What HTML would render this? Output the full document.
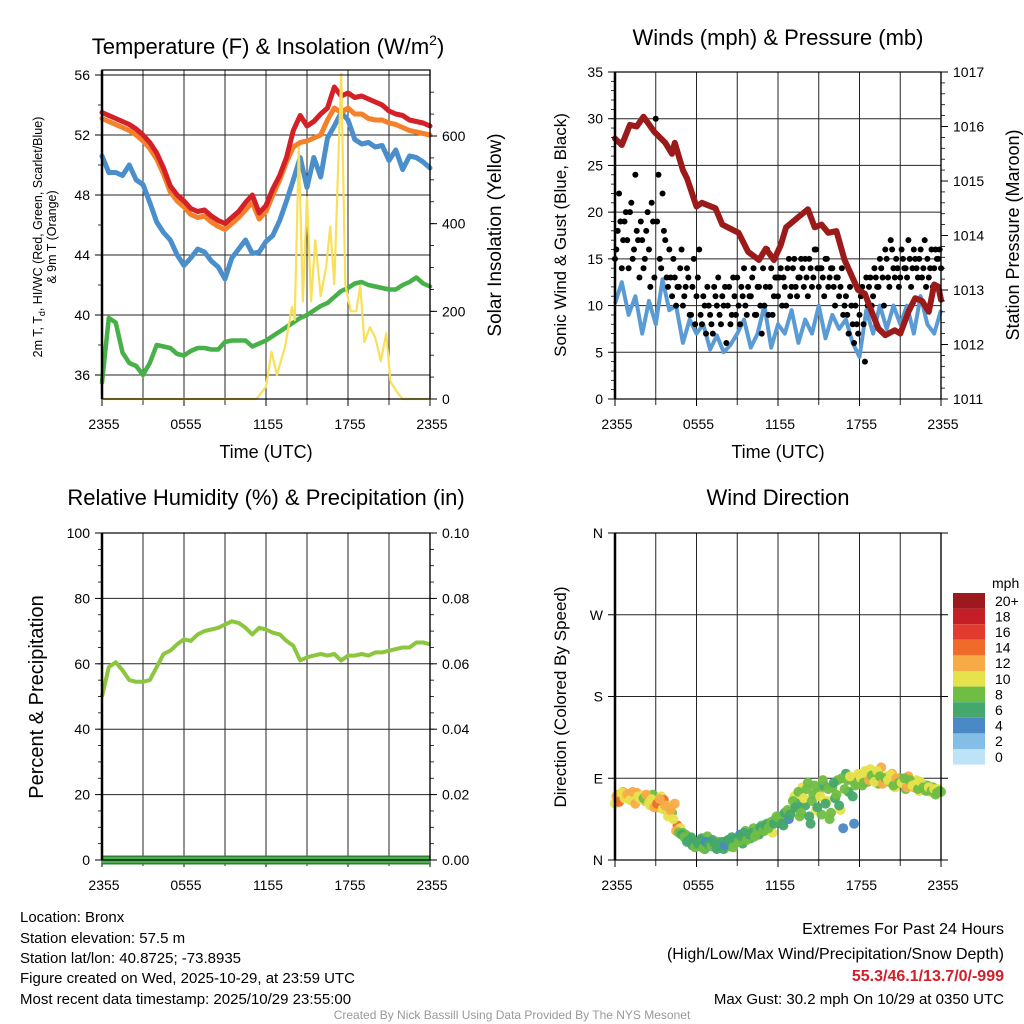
<!DOCTYPE html>
<html><head><meta charset="utf-8"><style>
html,body{margin:0;padding:0;background:#fff;}
svg{display:block;font-family:"Liberation Sans",Arial,sans-serif;}
</style></head><body>
<svg id="root" width="1024" height="1024" viewBox="0 0 1024 1024" xmlns="http://www.w3.org/2000/svg">
<rect width="1024" height="1024" fill="#fff"/>
<g id="p1"></g>
<g id="p2"></g>
<g id="p3"></g>
<g id="p4"></g>
<g id="cb"></g>

<text x="268" y="54" font-size="22" text-anchor="middle">Temperature (F) &amp; Insolation (W/m<tspan dy="-9" font-size="14">2</tspan><tspan dy="9">)</tspan></text>
<text x="778" y="45" font-size="22" text-anchor="middle">Winds (mph) &amp; Pressure (mb)</text>
<text x="266" y="505" font-size="22" text-anchor="middle">Relative Humidity (%) &amp; Precipitation (in)</text>
<text x="778" y="505" font-size="22" text-anchor="middle">Wind Direction</text>

<text x="266" y="458" font-size="18" text-anchor="middle">Time (UTC)</text>
<text x="778" y="458" font-size="18" text-anchor="middle">Time (UTC)</text>

<text transform="translate(42,237) rotate(-90)" font-size="12.5" text-anchor="middle">2m T, T<tspan font-size="9" dy="3">d</tspan><tspan dy="-3">, HI/WC (Red, Green, Scarlet/Blue)</tspan></text>
<text transform="translate(56,237) rotate(-90)" font-size="12.5" text-anchor="middle">&amp; 9m T (Orange)</text>
<text transform="translate(501,235) rotate(-90)" font-size="19" text-anchor="middle">Solar Insolation (Yellow)</text>
<text transform="translate(566,235) rotate(-90)" font-size="17" text-anchor="middle">Sonic Wind &amp; Gust (Blue, Black)</text>
<text transform="translate(1019,235) rotate(-90)" font-size="18" text-anchor="middle">Station Pressure (Maroon)</text>
<text transform="translate(43,697) rotate(-90)" font-size="20" text-anchor="middle">Percent &amp; Precipitation</text>
<text transform="translate(566,697) rotate(-90)" font-size="17" text-anchor="middle">Direction (Colored By Speed)</text>

<g font-size="15">
<text x="20" y="922">Location: Bronx</text>
<text x="20" y="943">Station elevation: 57.5 m</text>
<text x="20" y="963">Station lat/lon: 40.8725; -73.8935</text>
<text x="20" y="983">Figure created on Wed, 2025-10-29, at 23:59 UTC</text>
<text x="20" y="1004">Most recent data timestamp: 2025/10/29 23:55:00</text>
</g>
<g font-size="16" text-anchor="end">
<text x="1004" y="934">Extremes For Past 24 Hours</text>
<text x="1004" y="959">(High/Low/Max Wind/Precipitation/Snow Depth)</text>
<text x="1004" y="981" fill="#d0202a" font-weight="bold">55.3/46.1/13.7/0/-999</text>
<text x="1004" y="1004" font-size="15">Max Gust: 30.2 mph On 10/29 at 0350 UTC</text>
</g>
<text x="512" y="1019" font-size="12" fill="#999" text-anchor="middle">Created By Nick Bassill Using Data Provided By The NYS Mesonet</text>
</svg>
<script>
// ---------- data (half-hourly unless noted) ----------
const xTickLabels = ["2355","0555","1155","1755","2355"];
const tempTicks = [36,40,44,48,52,56];
const solarTicks = [0,200,400,600];
const windTicks = [0,5,10,15,20,25,30,35];
const pressTicks = [1011,1012,1013,1014,1015,1016,1017];
const rhTicks = [0,20,40,60,80,100];
const precipTicks = ["0.00","0.02","0.04","0.06","0.08","0.10"];
const dirLabels = ["N","E","S","W","N"];
const speedLabels = ["0","2","4","6","8","10","12","14","16","18","20+"];
const speedColors = ["#bde3f7","#84bde6","#4a88c6","#44a86c","#70bd44","#e6e24c","#f7ab47","#f06b2a","#e23b2f","#c41f26","#9c1a1d"];

const tempRed = [53.5,53.3,53.1,52.9,52.7,52.4,52.0,51.5,50.8,49.8,48.6,48.0,47.6,47.1,46.9,47.0,46.6,46.3,46.1,46.5,46.9,47.5,48.0,46.8,47.3,48.4,49.3,50.5,52.3,53.3,52.6,52.9,53.4,53.8,55.2,54.6,54.8,54.5,54.6,54.4,54.2,54.0,53.6,53.4,53.3,53.0,52.9,52.8,52.6];
const tempOrange = [53.1,52.9,52.7,52.5,52.3,52.0,51.6,51.1,50.4,49.4,48.2,47.6,47.2,46.7,46.5,46.6,46.2,45.9,45.7,46.1,46.5,47.0,47.5,46.4,46.9,48.0,49.0,50.2,51.2,51.5,51.6,51.8,52.0,53.0,53.8,53.5,53.8,53.4,53.4,53.1,53.0,53.0,52.8,52.7,52.5,52.3,52.2,52.1,52.0];
const tempBlue = [50.6,49.5,49.5,49.3,50.0,49.0,48.7,47.5,46.2,45.5,45.0,44.0,43.3,43.8,44.4,44.2,43.6,43.2,42.4,43.8,44.4,45.0,44.1,44.2,44.9,45.3,46.3,47.6,49.0,50.5,48.5,50.5,49.2,51.8,52.6,53.5,53.0,51.7,51.4,51.5,51.2,51.3,50.3,51.0,49.7,50.6,50.5,50.2,49.8];
const dewGreen = [35.5,39.8,39.5,37.5,36.8,36.6,36.0,36.8,38.0,37.9,37.8,37.4,37.3,37.6,37.8,37.8,37.7,37.7,38.2,38.3,38.3,38.3,37.9,38.1,38.3,38.6,38.9,39.2,39.5,39.8,40.0,40.3,40.6,40.8,41.2,41.6,41.8,42.1,42.2,42.0,41.9,41.8,41.7,41.7,42.0,42.2,42.5,42.1,41.9];
const solarHours = [0,11.3,12.0,12.4,12.8,13.4,13.9,14.1,14.4,14.7,15.0,15.3,15.6,16.0,16.4,16.7,17.0,17.5,17.8,18.2,18.6,18.9,19.2,19.6,20.0,20.4,20.8,21.1,21.6,22.0,24];
const solarVals = [0,0,28,108,55,120,210,180,574,223,460,223,362,235,300,393,262,742,262,200,200,259,130,164,140,86,150,40,15,0,0];

const pressHours = [0,0.5,1.1,1.6,2.1,2.9,3.7,4.2,4.4,5.0,5.3,6.0,6.4,7.4,7.9,8.3,9.1,9.8,10.6,11.1,11.7,12.2,12.6,13.5,14.2,14.7,15.2,15.7,16.3,16.9,17.9,18.4,18.9,19.4,19.9,20.6,21.0,21.6,22.1,22.6,23.1,23.5,23.8,24];
const pressVals = [1015.78,1015.66,1016.03,1016.0,1016.18,1015.9,1015.7,1015.5,1015.7,1015.2,1015.05,1014.53,1014.6,1014.5,1014.2,1014.15,1014.05,1013.7,1013.55,1013.76,1013.55,1013.82,1014.15,1014.34,1014.48,1014.15,1014.2,1014.05,1014.08,1013.55,1013.0,1012.93,1012.6,1012.29,1012.17,1012.26,1012.2,1012.6,1012.85,1012.8,1012.6,1013.1,1013.06,1012.82];
const windSpeed = [10.2,12.5,9.0,11.0,7.0,10.5,8.0,12.8,9.5,10.0,6.0,8.5,7.0,8.0,5.3,6.8,5.0,5.8,7.0,8.5,5.5,7.0,10.0,5.5,8.0,7.0,9.5,6.0,8.5,7.0,10.0,6.5,9.0,7.5,8.5,6.0,4.5,9.5,7.0,10.0,7.5,10.0,8.0,10.0,7.0,11.0,8.0,7.0,9.5];
// gusts every 0.2 h (set A at 0.0,0.2..., set B at 0.1,0.3...)
const gustVals = [15,18,19,17,20, 14,21,16,18,13, 17,15,20,12,19, 30,24,14,18,13, 16,11,13,12,14, 10,12,13,9,15, 11,16,8,10,12, 9,7,11,13,8, 10,6,12,9,11, 13,8,11,10,12, 11,14,9,12,7, 10,16,12,9,13, 11,14,13,10,15, 12,15,11,13,14, 15,11,14,13,16, 12,14,11,15,13, 14,10,13,12,9, 11,7,10,6,8, 9,12,4,10,13, 11,13,12,14,10, 15,12,16,13,14, 13,15,14,17,12, 16,14,15,13,17, 15,14,12,16,15, 14];
const gustVals2 = [16,22,14,19,17, 20,15,24,17,19, 14,18,16,21,13, 19,15,22,17,12, 13,15,10,12,16, 11,14,9,12,8, 13,9,11,7,10, 8,12,10,9,11, 12,10,8,13,9, 10,12,14,9,11, 13,9,12,10,14, 12,9,14,11,13, 13,10,12,14,11, 14,12,13,15,12, 13,15,12,16,14, 14,13,15,12,14, 12,13,11,14,10, 9,12,8,10,7, 11,8,13,12,10, 14,12,15,13,16, 13,17,14,15,12, 16,14,13,15,14, 15,13,16,14,12, 13,16,14,15,16];

const rhVals = [50,59,60.5,58,55,54.5,54.5,55,59,63,64,66,67.5,67,69,70,70.5,71,72,73,72.5,71,69,71,70.5,69.5,69,67,65.5,61,62,62.5,63,62.5,63,61,62.5,62.5,63,62.5,63.5,63.5,64,64.5,65,65,66.5,66.5,66];
const precipVals = [0,0,0,0,0,0,0,0,0,0,0,0,0,0,0,0,0,0,0,0,0,0,0,0,0];

// wind direction every 0.2 h (set A) and offset 0.1 h (set B)
const dirVals = [62,72,68,75,70, 73,66,70,74,68, 71,65,69,60,72, 64,58,70,66,55, 60,52,62,38,35, 30,28,22,25,18, 20,15,24,12,26, 18,22,14,20,16, 12,20,15,25,18, 22,28,18,32,25, 24,35,30,28,38, 32,40,36,30,45, 42,48,38,50,45, 55,70,62,48,80, 60,85,40,72,55, 75,50,82,65,45, 80,68,88,55,35, 95,75,88,40,85, 92,82,98,86,100, 88,95,84,102,90, 92,86,95,80,88, 90,84,78,92,86, 80,88,76,84,78, 82,75,80,72,78, 75];
const dirSpeeds = [10,12,11,12,10, 11,12,10,11,9, 10,11,7,10,8, 9,12,10,14,15, 10,8,11,13,10, 8,7,6,5,7, 6,7,5,6,7, 6,5,4,7,6, 5,6,7,5,6, 6,4,6,8,7, 5,7,10,6,8, 7,6,8,9,7, 6,7,5,6,4, 7,9,6,8,10, 6,7,6,8,9, 7,8,6,9,7, 8,6,7,9,4, 5,6,8,4,7, 6,8,10,7,9, 8,10,7,11,9, 10,8,11,9,7, 8,11,7,12,10, 12,9,10,8,7, 8,9,7,8,9, 8];
const dirVals2 = [70,64,74,68,72, 66,75,62,70,67, 68,72,63,67,58, 62,67,56,60,48, 55,45,32,30,28, 25,20,22,16,14, 18,22,13,20,17, 15,19,12,17,20, 16,22,20,14,24, 20,26,30,22,28, 30,26,33,36,32, 38,35,42,40,48, 46,40,52,55,50, 65,58,75,52,68, 78,48,65,82,58, 70,88,62,78,52, 85,72,60,90,78, 88,92,70,82,95, 90,85,96,88,93, 86,98,92,84,90, 88,94,82,90,85, 85,90,80,88,82, 83,78,86,80,76, 80,76,78,74,76];
const dirSpeeds2 = [11,13,10,9,12, 10,12,11,10,9, 8,11,10,9,12, 13,11,10,12,9, 11,9,12,7,6, 7,6,5,6,7, 5,6,7,4,6, 7,5,6,6,5, 4,6,5,7,6, 7,6,5,8,6, 6,8,7,5,7, 6,7,8,6,7, 7,6,5,7,6, 8,6,7,7,9, 7,6,8,7,6, 9,7,6,8,7, 6,7,5,8,7, 7,9,6,8,10, 9,7,10,11,8, 10,9,8,11,7, 9,10,8,12,7, 9,8,11,7,10, 10,8,9,7,8, 9,8,10,8,7];

// ---------- helpers ----------
const NS = "http://www.w3.org/2000/svg";
function mk(parent, tag, attrs){ const e=document.createElementNS(NS,tag); for(const k in attrs) e.setAttribute(k,attrs[k]); parent.appendChild(e); return e; }
function linScale(d0,d1,r0,r1){ return v => r0 + (v-d0)*(r1-r0)/(d1-d0); }
function pathFrom(xs, ys){ let d=""; for(let i=0;i<xs.length;i++){ d += (i?"L":"M")+xs[i].toFixed(1)+","+ys[i].toFixed(1); } return d; }
function idxHours(arr){ return arr.map((_,i)=> i*24/(arr.length-1)); }
function stepHours(arr, off){ return arr.map((_,i)=> off + i*0.2); }

function frame(g, L, R, T, B, hGrid){
  const grid = mk(g,"g",{stroke:"#000","stroke-width":"1",opacity:"0.85"});
  
  
  const xs = linScale(0,24,L,R);
  for(let h=3;h<24;h+=3){ mk(grid,"line",{x1:xs(h),x2:xs(h),y1:T,y2:B+6}); }
  hGrid.forEach(y=> mk(grid,"line",{x1:L,x2:R,y1:y,y2:y}));
  const tl = mk(g,"g",{"font-size":"14","text-anchor":"middle"});
  
  
  xTickLabels.forEach((s,i)=>{ const t=mk(tl,"text",{x:xs(i*6)+2,y:B+30}); t.textContent=s; mk(g,"line",{x1:xs(i*6),x2:xs(i*6),y1:B,y2:B+7,stroke:"#000"}); });
  return xs;
}
function border(g,L,R,T,B){
  const b = mk(g,"rect",{x:L,y:T,width:R-L,height:B-T,fill:"none",stroke:"#000","stroke-width":"1.2"});
  
  
  mk(g,"line",{x1:L,x2:L,y1:T,y2:B,stroke:"#000","stroke-width":"2.5"});
  mk(g,"line",{x1:R,x2:R,y1:T,y2:B,stroke:"#000","stroke-width":"1.2"});
}
function yTicks(g, vals, labels, scale, x, side, fs, minorStep, lo, hi){
  const tg = mk(g,"g",{"font-size":fs,"text-anchor": side<0?"end":"start"});
  
  
  vals.forEach((v,i)=>{ const y=scale(v); mk(g,"line",{x1:x,x2:x+side*7,y1:y,y2:y,stroke:"#000"}); const t=mk(tg,"text",{x:x+side*12,y:y+5}); t.textContent=labels[i]; });
  if(minorStep){ for(let v=lo; v<=hi+1e-9; v+=minorStep){ const y=scale(v); mk(g,"line",{x1:x,x2:x+side*4,y1:y,y2:y,stroke:"#000","stroke-width":"0.8"}); } }
}

// ---------- Panel 1 ----------
(function(){
  const g=document.getElementById("p1");
  const L=102,R=430,T=70,B=399;
  const yT=linScale(36,56,375,75);
  const yS=linScale(0,600,399,136);
  const xs=frame(g,L,R,T,B,tempTicks.map(yT));
  const series=[[tempBlue,"#4a8fcc",5,"blue-temp-line"],[tempOrange,"#f4802a",5,"orange-9m-temp-line"],[tempRed,"#d42027",5,"red-2m-temp-line"],[dewGreen,"#48b048",4.5,"green-dewpoint-line"]];
  series.forEach(s=>{
    const p=mk(g,"path",{d:pathFrom(idxHours(s[0]).map(xs), s[0].map(yT)),fill:"none",stroke:s[1],"stroke-width":s[2],"stroke-linejoin":"round","stroke-linecap":"round"});
    
    
  });
  const sp=mk(g,"path",{d:pathFrom(solarHours.map(xs), solarVals.map(yS)),fill:"none",stroke:"#f8e05a","stroke-width":"2.2","stroke-linejoin":"round"});
  
  
  border(g,L,R,T,B);
  mk(g,"line",{x1:L,x2:R,y1:75,y2:75,stroke:"#000"});
  yTicks(g,tempTicks,tempTicks.map(String),yT,L,-1,"14",2,36,56);
  yTicks(g,solarTicks,solarTicks.map(String),yS,R,1,"14",50,0,700);
})();

// ---------- Panel 2 ----------
(function(){
  const g=document.getElementById("p2");
  const L=615,R=941,T=72,B=399;
  const yW=linScale(0,35,399,72);
  const yP=linScale(1011,1017,399,72);
  const xs=frame(g,L,R,T,B,windTicks.map(yW));
  const wp=mk(g,"path",{d:pathFrom(idxHours(windSpeed).map(xs), windSpeed.map(yW)),fill:"none",stroke:"#5a9bd5","stroke-width":"4","stroke-linejoin":"round"});
  
  
  const gg=mk(g,"g",{fill:"#000"});
  
  
  [[gustVals,0],[gustVals2,0.1]].forEach(set=>{
    const gh=stepHours(set[0],set[1]);
    set[0].forEach((v,i)=>{
      const c=mk(gg,"circle",{cx:xs(gh[i]),cy:yW(v),r:"3"});
      
      
    });
  });
  const pp=mk(g,"path",{d:pathFrom(pressHours.map(xs), pressVals.map(yP)),fill:"none",stroke:"#9b1b1b","stroke-width":"6","stroke-linejoin":"round","stroke-linecap":"round"});
  
  
  border(g,L,R,T,B);
  yTicks(g,windTicks,windTicks.map(String),yW,L,-1,"14",1,0,35);
  yTicks(g,pressTicks,pressTicks.map(String),yP,R,1,"14",0.2,1011,1017);
})();

// ---------- Panel 3 ----------
(function(){
  const g=document.getElementById("p3");
  const L=102,R=430,T=533,B=860;
  const yR=linScale(0,100,860,533);
  const yPr=linScale(0,0.10,860,533);
  const xs=frame(g,L,R,T,B,rhTicks.map(yR));
  const rp=mk(g,"path",{d:pathFrom(idxHours(rhVals).map(xs), rhVals.map(yR)),fill:"none",stroke:"#8cc63f","stroke-width":"4","stroke-linejoin":"round"});
  
  
  const pr=mk(g,"path",{d:pathFrom(idxHours(precipVals).map(xs), precipVals.map(yPr)),fill:"none",stroke:"#2e7d32","stroke-width":"9"});
  
  
  const pr2=mk(g,"path",{d:pathFrom(idxHours(precipVals).map(xs), precipVals.map(yPr)),fill:"none",stroke:"#4caf50","stroke-width":"6"});
  
  
  border(g,L,R,T,B);
  yTicks(g,rhTicks,rhTicks.map(String),yR,L,-1,"14",5,0,100);
  yTicks(g,rhTicks,precipTicks,yR,R,1,"14",5,0,100);
})();

// ---------- Panel 4 ----------
(function(){
  const g=document.getElementById("p4");
  const L=615,R=941,T=533,B=860;
  const yD=linScale(0,360,860,533);
  const xs=frame(g,L,R,T,B,[90,180,270].map(yD));
  const pg=mk(g,"g",{});
  
  
  [[dirVals,dirSpeeds,0],[dirVals2,dirSpeeds2,0.1]].forEach(set=>{
    const dh=stepHours(set[0],set[2]);
    set[0].forEach((d,i)=>{
      const ci=Math.min(10,Math.max(0,Math.round(set[1][i]/2)));
      const c=mk(pg,"circle",{cx:xs(dh[i]),cy:yD(d),r:"5",fill:speedColors[ci],opacity:"0.95"});
      
      
    });
  });
  border(g,L,R,T,B);
  yTicks(g,[0,90,180,270,360],dirLabels,yD,L,-1,"14",0,0,0);
  [0,90,180,270,360].forEach(v=> mk(g,"line",{x1:R,x2:R+7,y1:yD(v),y2:yD(v),stroke:"#000"}));
})();

// ---------- Colorbar ----------
(function(){
  const g=document.getElementById("cb");
  const x=953,w=32,top=593,h=15.6;
  const t=mk(g,"text",{x:992,y:588,"font-size":"14"}); t.textContent="mph";
  
  
  for(let i=0;i<speedColors.length;i++){
    const ci=speedColors.length-1-i;
    const r=mk(g,"rect",{x:x,y:top+i*h,width:w,height:h,fill:speedColors[ci]});
    
    
    const lb=mk(g,"text",{x:995,y:top+i*h+h/2+5,"font-size":"14"}); lb.textContent=speedLabels[ci];
    
    
  }
})();
</script>
</body></html>
